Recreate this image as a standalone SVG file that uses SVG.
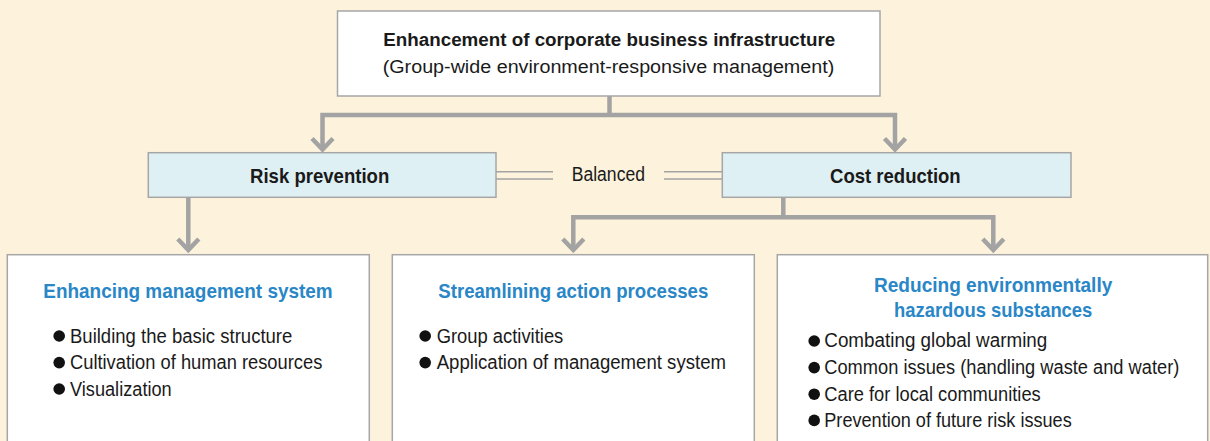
<svg xmlns="http://www.w3.org/2000/svg" width="1210" height="441" viewBox="0 0 1210 441">
<style>
.bg{fill:#fdf3dd}
.box{fill:#ffffff;stroke:#a6a6a6;stroke-width:1.5}
.blue{fill:#def0f3;stroke:#a6a6a6;stroke-width:1.5}
.t{font-family:"Liberation Sans",Arial,sans-serif;fill:#1a1a1a}
.b{font-weight:bold}
.h{font-family:"Liberation Sans",Arial,sans-serif;font-weight:bold;fill:#2986c7;font-size:20.5px}
.li{font-size:19.5px}
.conn{fill:none;stroke:#a3a3a3;stroke-width:4.5;stroke-linejoin:miter}
.dbl{fill:none;stroke:#a3a3a3;stroke-width:1.5}
.dot{fill:#111111}
</style>
<defs>
<polyline id="chev" points="-10.5,-11 0,0 10.5,-11" fill="none" stroke="#a3a3a3" stroke-width="4.5"/>
</defs>
<rect class="bg" x="0" y="0" width="1210" height="441"/>

<g id="connectors">
<path class="conn" d="M609.5 96 V115"/>
<path class="conn" d="M322.5 149 V115 H895 V149"/>
<use href="#chev" x="322.5" y="149.5"/>
<use href="#chev" x="895" y="149.5"/>
<path class="conn" d="M188.3 197.3 V249"/>
<use href="#chev" x="188.3" y="250"/>
<path class="conn" d="M783.3 197.3 V217.3"/>
<path class="conn" d="M573.3 249 V217.3 H993.3 V249"/>
<use href="#chev" x="573.3" y="250"/>
<use href="#chev" x="993.3" y="250"/>
<path class="dbl" d="M496 171.7 H553 M496 179 H553 M664 171.7 H722 M664 179 H722"/>
<text class="t li" x="571.7" y="180.7" textLength="73.3" lengthAdjust="spacingAndGlyphs">Balanced</text>
</g>

<g id="top">
<rect class="box" x="337.5" y="11" width="542.5" height="85"/>
<text class="t b" font-size="18" x="383.3" y="45.7" textLength="452" lengthAdjust="spacingAndGlyphs">Enhancement of corporate business infrastructure</text>
<text class="t" font-size="18" x="382.7" y="72.7" textLength="451.6" lengthAdjust="spacingAndGlyphs">(Group-wide environment-responsive management)</text>
</g>

<g id="risk">
<rect class="blue" x="148.3" y="152.7" width="347.7" height="44.6"/>
<text class="t b" font-size="20.5" x="250" y="183.3" textLength="139.3" lengthAdjust="spacingAndGlyphs">Risk prevention</text>
</g>

<g id="cost">
<rect class="blue" x="722.3" y="152.7" width="348.7" height="44.6"/>
<text class="t b" font-size="20.5" x="830" y="183.3" textLength="130.7" lengthAdjust="spacingAndGlyphs">Cost reduction</text>
</g>

<g id="mgmt">
<rect class="box" x="7.3" y="254.7" width="362" height="200"/>
<text class="h" x="43.3" y="298.3" textLength="289.4" lengthAdjust="spacingAndGlyphs">Enhancing management system</text>
<circle class="dot" cx="59.2" cy="336" r="5.8"/>
<circle class="dot" cx="59.2" cy="362.6" r="5.8"/>
<circle class="dot" cx="59.2" cy="389" r="5.8"/>
<text class="t li" x="70" y="342.7" textLength="222.3" lengthAdjust="spacingAndGlyphs">Building the basic structure</text>
<text class="t li" x="70" y="369.3" textLength="252.3" lengthAdjust="spacingAndGlyphs">Cultivation of human resources</text>
<text class="t li" x="70" y="395.7" textLength="101.7" lengthAdjust="spacingAndGlyphs">Visualization</text>
</g>

<g id="stream">
<rect class="box" x="392.3" y="254.7" width="362" height="200"/>
<text class="h" x="438.3" y="298.3" textLength="270" lengthAdjust="spacingAndGlyphs">Streamlining action processes</text>
<circle class="dot" cx="425.2" cy="336" r="5.8"/>
<circle class="dot" cx="425.2" cy="362.6" r="5.8"/>
<text class="t li" x="436.7" y="342.7" textLength="126.6" lengthAdjust="spacingAndGlyphs">Group activities</text>
<text class="t li" x="436.7" y="369.3" textLength="289.3" lengthAdjust="spacingAndGlyphs">Application of management system</text>
</g>

<g id="hazard">
<rect class="box" x="777.3" y="254.7" width="430.4" height="200"/>
<text class="h" x="874" y="292.3" textLength="238.3" lengthAdjust="spacingAndGlyphs">Reducing environmentally</text>
<text class="h" x="894" y="316.7" textLength="198.3" lengthAdjust="spacingAndGlyphs">hazardous substances</text>
<circle class="dot" cx="814.2" cy="341" r="5.8"/>
<circle class="dot" cx="814.2" cy="367.6" r="5.8"/>
<circle class="dot" cx="814.2" cy="394.2" r="5.8"/>
<circle class="dot" cx="814.2" cy="420.4" r="5.8"/>
<text class="t li" x="824.3" y="347.3" textLength="223" lengthAdjust="spacingAndGlyphs">Combating global warming</text>
<text class="t li" x="824.3" y="374" textLength="355" lengthAdjust="spacingAndGlyphs">Common issues (handling waste and water)</text>
<text class="t li" x="824.3" y="400.7" textLength="216.4" lengthAdjust="spacingAndGlyphs">Care for local communities</text>
<text class="t li" x="824.3" y="426.7" textLength="247.4" lengthAdjust="spacingAndGlyphs">Prevention of future risk issues</text>
</g>
</svg>
